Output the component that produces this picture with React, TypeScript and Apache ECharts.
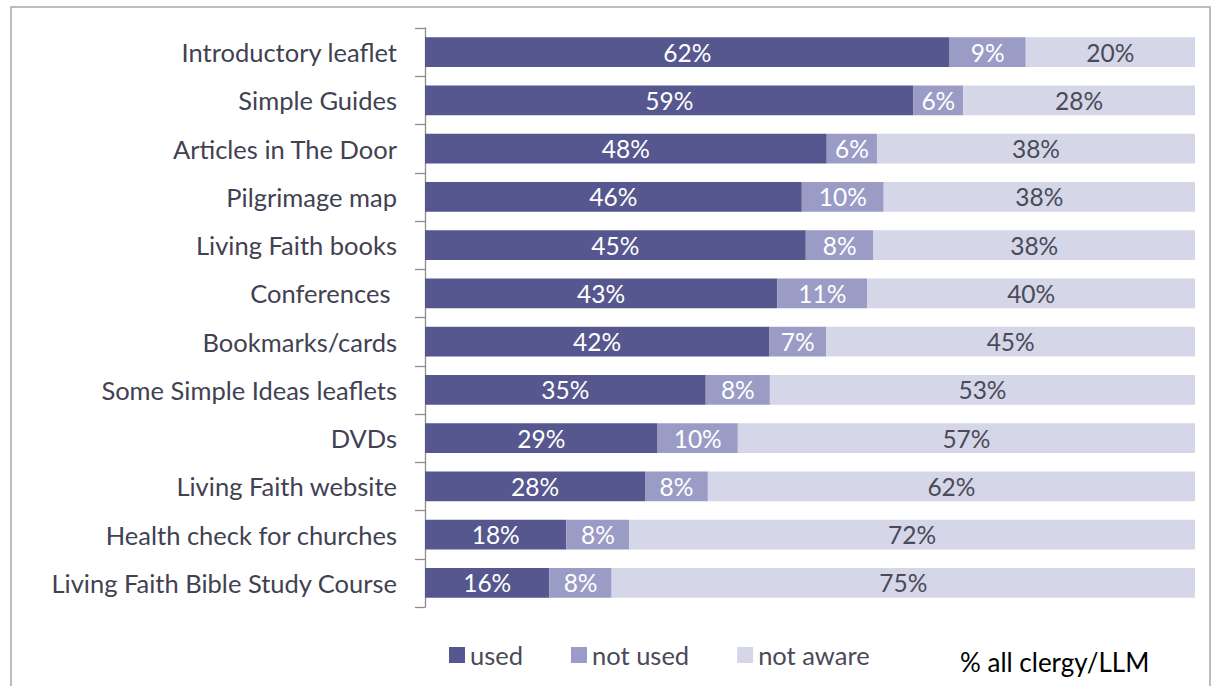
import React, { useEffect, useRef } from "react";
import * as echarts from "echarts";

const categories = [
  "Introductory leaflet",
  "Simple Guides",
  "Articles in The Door",
  "Pilgrimage map",
  "Living Faith books",
  "Conferences ",
  "Bookmarks/cards",
  "Some Simple Ideas leaflets",
  "DVDs",
  "Living Faith website",
  "Health check for churches",
  "Living Faith Bible Study Course",
];
const used = [62, 59, 48, 46, 45, 43, 42, 35, 29, 28, 18, 16];
const notUsed = [9, 6, 6, 10, 8, 11, 7, 8, 10, 8, 8, 8];
const notAware = [20, 28, 38, 38, 38, 40, 45, 53, 57, 62, 72, 75];

const seriesNames = ["used", "not used", "not aware"];
const seriesColors = ["#55578e", "#9a9cc6", "#d5d6e8"];
const labelColors = ["#ffffff", "#ffffff", "#4a4a58"];

const FONT = "Lato";

export default function App() {
  const ref = useRef<HTMLDivElement>(null);
  useEffect(() => {
    if (!ref.current) return;
    const chart = echarts.init(ref.current, undefined, { renderer: "svg" });
    const raw = [used, notUsed, notAware];
    const totals = categories.map((_, i) => used[i] + notUsed[i] + notAware[i]);
    const series = raw.map((arr, s) => ({
      name: seriesNames[s],
      type: "bar",
      stack: "total",
      barWidth: "62%",
      itemStyle: { color: seriesColors[s] },
      data: arr.map((v, i) => (v / totals[i]) * 100),
      label: {
        show: true,
        position: "inside",
        color: labelColors[s],
        fontFamily: FONT,
        fontSize: 24.5,
        formatter: (p: any) => `${raw[s][p.dataIndex]}%`,
      },
    }));
    chart.setOption({
      animation: false,
      textStyle: { fontFamily: FONT },
      grid: { left: 425, right: 21, top: 28, bottom: 79 },
      xAxis: {
        type: "value",
        min: 0,
        max: 100,
        show: false,
      },
      yAxis: {
        type: "category",
        data: categories,
        inverse: true,
        axisLine: { show: true, lineStyle: { color: "#8c8c8c", width: 1.3 } },
        axisTick: { show: true, length: 10, lineStyle: { color: "#8c8c8c", width: 1.3 } },
        axisLabel: {
          color: "#414152",
          fontSize: 25.5,
          fontFamily: FONT,
          margin: 28,
        },
      },
      legend: {
        data: seriesNames,
        left: 444,
        top: 637,
        itemWidth: 16,
        itemHeight: 16,
        itemGap: 48,
        icon: "rect",
        textStyle: { color: "#4a4a58", fontSize: 25.5, fontFamily: FONT },
      },
      graphic: [
        {
          type: "rect",
          shape: { x: 11, y: 7, width: 1199, height: 700 },
          style: { fill: "none", stroke: "#a6a6a6", lineWidth: 1.5 },
          silent: true,
        },
        {
          type: "text",
          x: 960,
          y: 662,
          style: {
            text: "% all clergy/LLM",
            fill: "#000000",
            font: `26px ${FONT}`,
            verticalAlign: "middle",
          },
        },
      ],
      series,
    });
    return () => chart.dispose();
  }, []);
  return (
    <div
      ref={ref}
      style={{ position: "absolute", left: 0, top: 0, width: 1216, height: 686 }}
    />
  );
}
